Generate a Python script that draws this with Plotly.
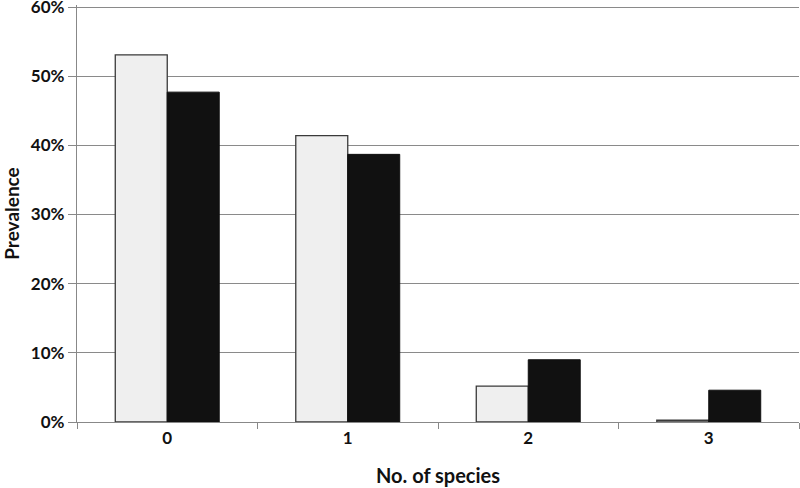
import plotly.graph_objects as go

categories = ["0", "1", "2", "3"]
series_a = [0.531, 0.414, 0.052, 0.0025]
series_b = [0.477, 0.387, 0.090, 0.046]
y_ticks = [0, 0.1, 0.2, 0.3, 0.4, 0.5, 0.6]
y_tick_labels = ["0%", "10%", "20%", "30%", "40%", "50%", "60%"]

fig = go.Figure()
fig.add_trace(go.Bar(x=categories, y=series_a, marker=dict(color="#efefef", line=dict(color="#3a3a3a", width=1.3))))
fig.add_trace(go.Bar(x=categories, y=series_b, marker=dict(color="#111111", line=dict(color="#111111", width=1))))

tickfont = dict(family="Lato, 'Open Sans', sans-serif", size=17, color="#111", weight="bold")
fig.update_layout(
    width=800, height=488,
    margin=dict(l=77, r=1, t=5, b=66),
    plot_bgcolor="white", paper_bgcolor="white",
    barmode="group", bargap=0.424, bargroupgap=0,
    showlegend=False,
    font=dict(family="Lato, 'Open Sans', sans-serif", size=17, color="#111"),
)
fig.update_xaxes(
    automargin=False,
    showline=True, linecolor="#888", linewidth=1.3,
    ticks="outside", tickcolor="#888", ticklen=6, tickson="boundaries",
    tickfont=tickfont,
    title=dict(text="<b>No. of species</b>", font=dict(size=20), standoff=22),
)
fig.update_yaxes(
    automargin=False,
    range=[0, 0.603], tickvals=y_ticks, ticktext=y_tick_labels,
    ticklabeloverflow="allow",
    showgrid=True, gridcolor="#8a8a8a", gridwidth=1.3,
    showline=True, linecolor="#888", linewidth=1.3,
    ticks="outside", tickcolor="#888", ticklen=8,
    tickfont=tickfont,
    title=dict(text="<b>Prevalence</b>", font=dict(size=19), standoff=10),
    zeroline=False,
)
fig.write_html("out.html", config={"displayModeBar": False},
               post_script="document.body.style.margin='0';")
